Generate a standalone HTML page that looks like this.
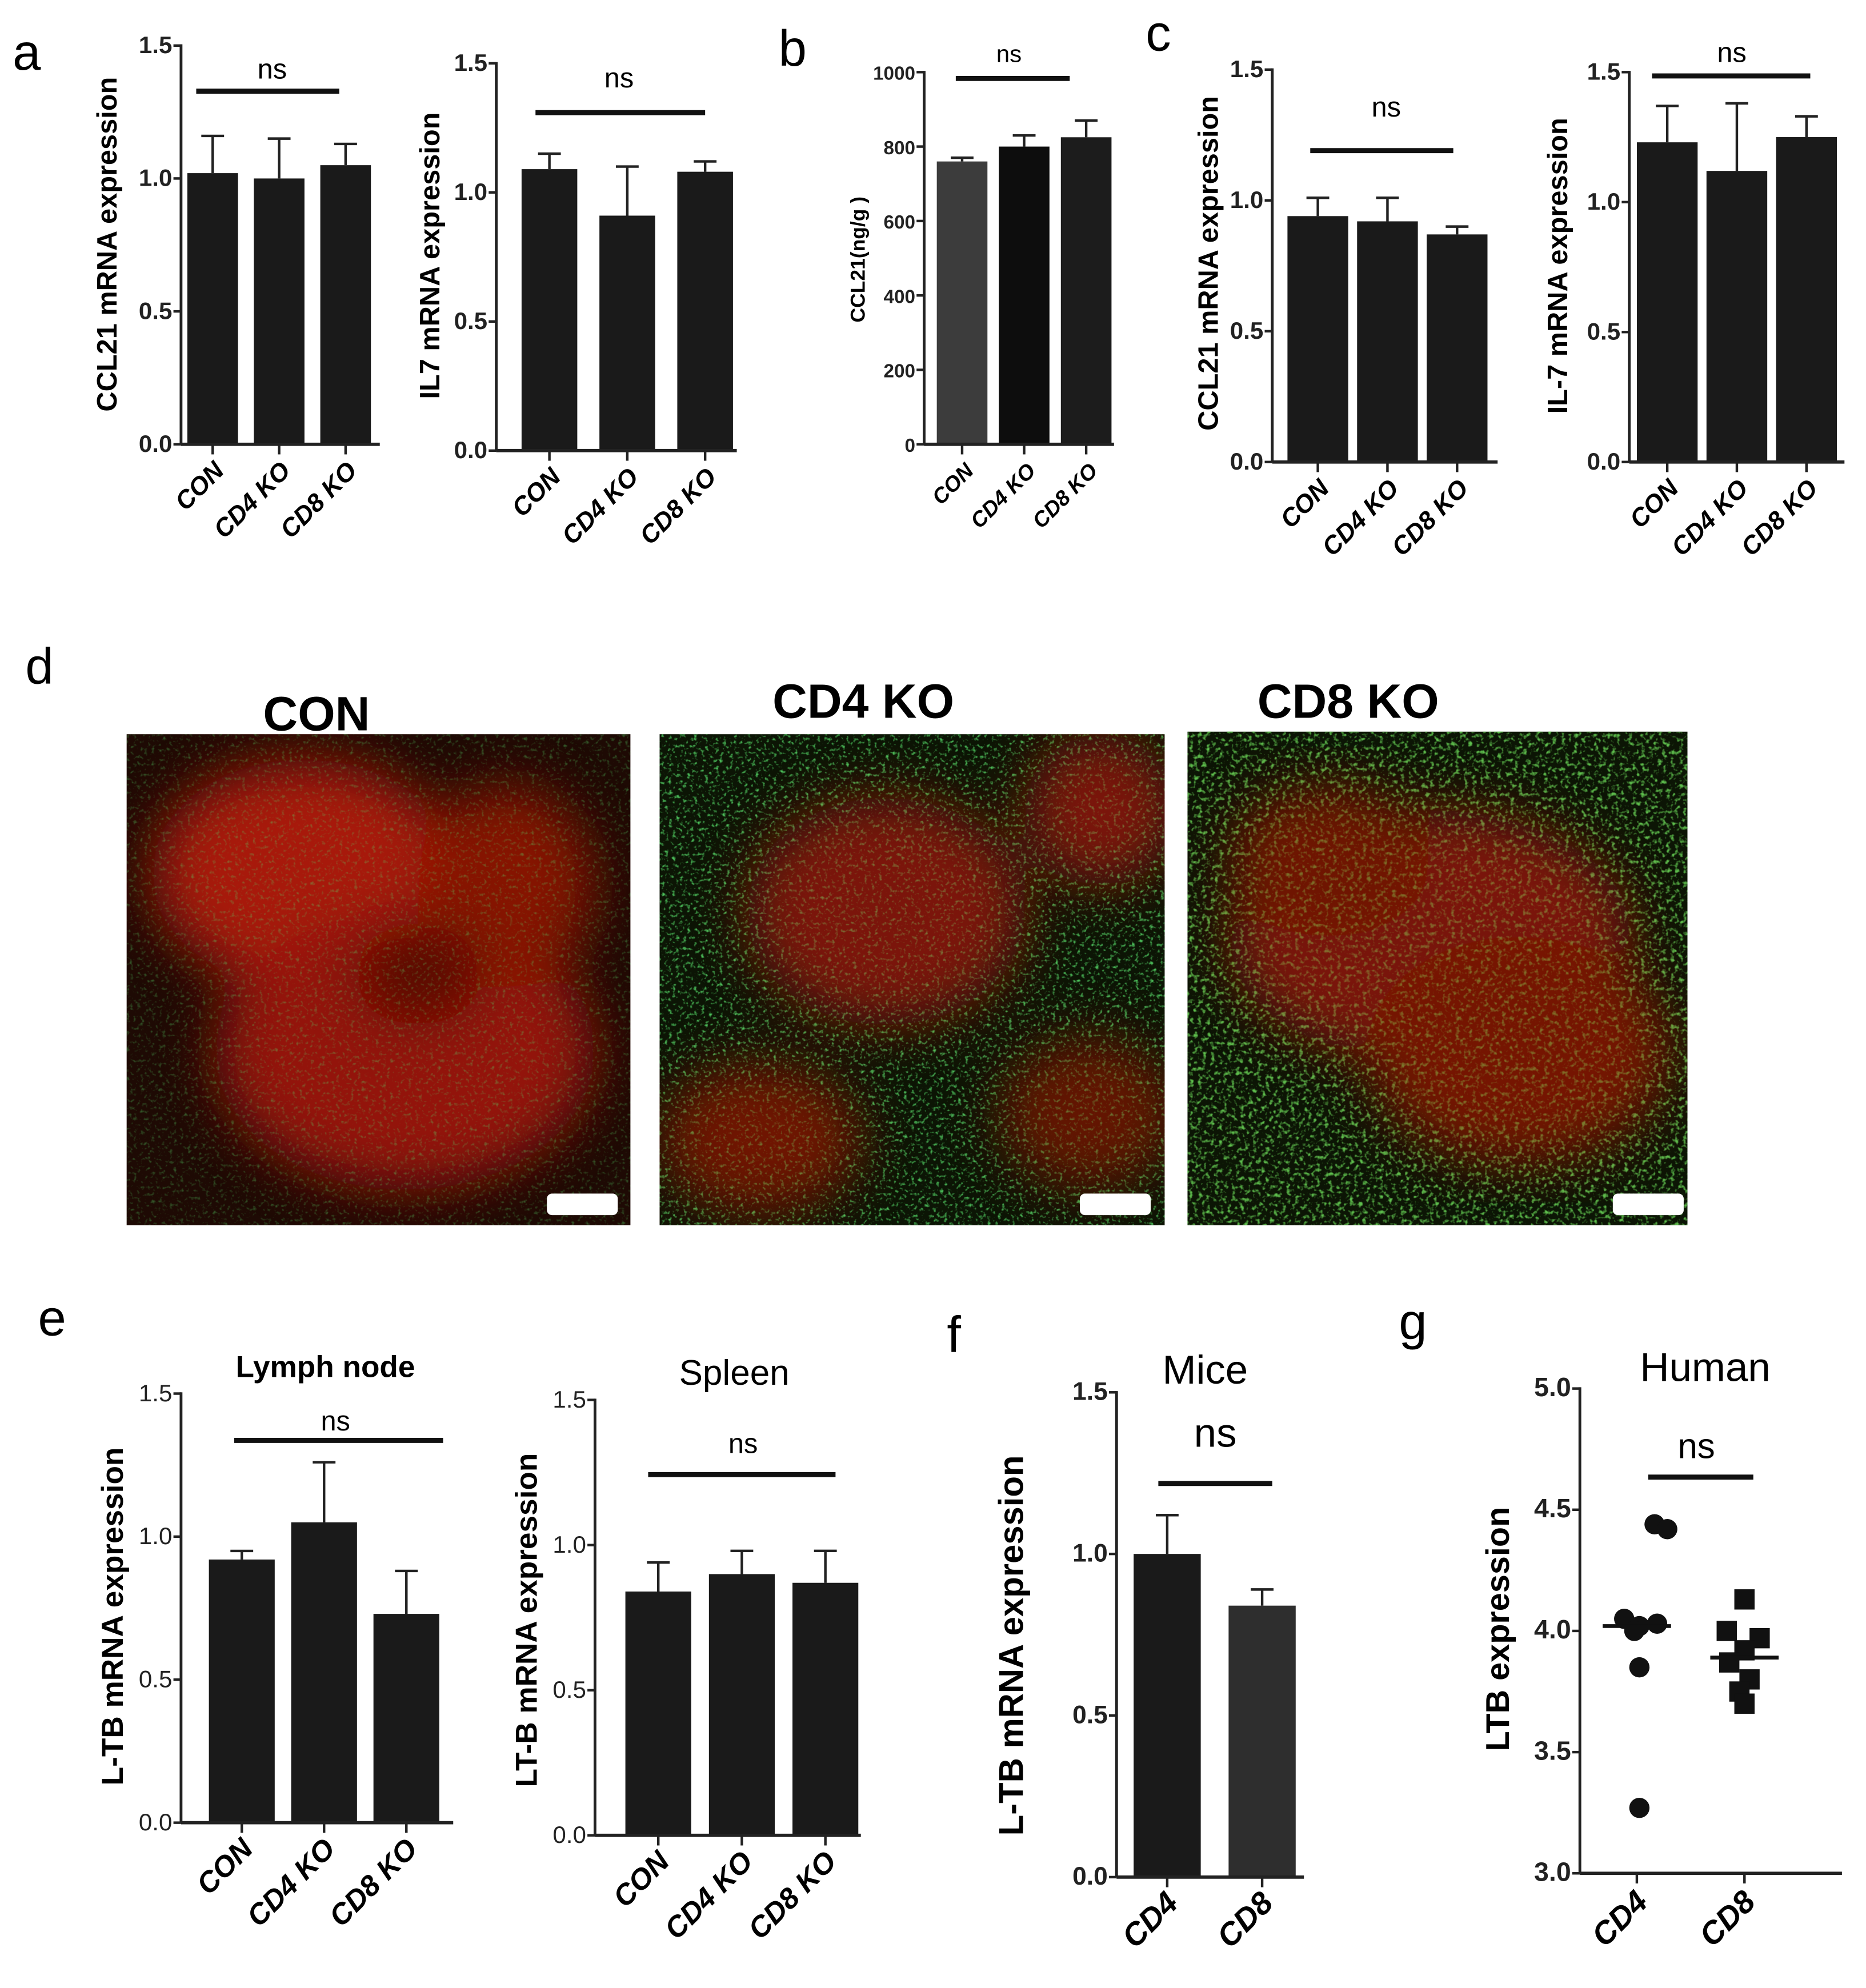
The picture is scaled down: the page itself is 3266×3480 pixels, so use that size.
<!DOCTYPE html>
<html><head><meta charset="utf-8">
<style>
html,body{margin:0;padding:0;background:#fff;}
svg{display:block;font-family:"Liberation Sans",Arial,sans-serif;}
</style></head>
<body>
<svg id="fig" width="3266" height="3480" viewBox="0 0 1474 1570.6" xmlns="http://www.w3.org/2000/svg">
<defs>
<filter id="grn" x="0" y="0" width="100%" height="100%">
<feTurbulence type="fractalNoise" baseFrequency="0.35" numOctaves="2" seed="4"/>
<feColorMatrix type="matrix" values="0 0 0 0 0.1  0 0 0 0 0.75  0 0 0 0 0.15  0 3.2 0 0 -1.75"/>
</filter>
<filter id="grn2" x="0" y="0" width="100%" height="100%">
<feTurbulence type="fractalNoise" baseFrequency="0.3" numOctaves="2" seed="9"/>
<feColorMatrix type="matrix" values="0 0 0 0 0.15  0 0 0 0 0.7  0 0 0 0 0.1  0 3.5 0 0 -1.8"/>
</filter>
<filter id="blur8"><feGaussianBlur stdDeviation="22"/></filter>
</defs>
<g font-size="40" fill="#000">
<text x="10" y="55">a</text>
<text x="615" y="52">b</text>
<text x="905" y="40">c</text>
<text x="20" y="540">d</text>
<text x="30" y="1055">e</text>
<text x="748" y="1068">f</text>
<text x="1105" y="1058">g</text>
</g>

<g>
<text x="250" y="577" font-size="38" font-weight="bold" text-anchor="middle">CON</text>
<text x="682" y="567" font-size="38" font-weight="bold" text-anchor="middle">CD4 KO</text>
<text x="1065" y="567" font-size="38" font-weight="bold" text-anchor="middle">CD8 KO</text>
<clipPath id="c1"><rect x="100" y="580" width="398" height="388"/></clipPath>
<clipPath id="c2"><rect x="521" y="580" width="399" height="388"/></clipPath>
<clipPath id="c3"><rect x="938" y="578" width="395" height="390"/></clipPath>
<g clip-path="url(#c1)">
<rect x="100" y="580" width="398" height="388" fill="#1e0a04"/>
<g filter="url(#blur8)" opacity="0.85">
<ellipse cx="240" cy="690" rx="120" ry="90" fill="#c01a0a"/>
<ellipse cx="320" cy="830" rx="150" ry="110" fill="#a81808"/>
<ellipse cx="400" cy="700" rx="70" ry="80" fill="#981606"/>
<ellipse cx="330" cy="770" rx="50" ry="40" fill="#601004"/>
</g>
<rect x="100" y="580" width="398" height="388" filter="url(#grn)" opacity="0.35"/>
</g>
<g clip-path="url(#c2)">
<rect x="521" y="580" width="399" height="388" fill="#0c1505"/>
<rect x="521" y="580" width="399" height="388" filter="url(#grn)" opacity="0.8"/>
<g filter="url(#blur8)" opacity="0.75">
<ellipse cx="700" cy="720" rx="110" ry="90" fill="#a01808"/>
<ellipse cx="600" cy="900" rx="80" ry="60" fill="#901606"/>
<ellipse cx="870" cy="640" rx="60" ry="60" fill="#a01808"/>
<ellipse cx="860" cy="880" rx="70" ry="60" fill="#801404"/>
</g>
<rect x="521" y="580" width="399" height="388" filter="url(#grn)" opacity="0.3"/>
</g>
<g clip-path="url(#c3)">
<rect x="938" y="578" width="395" height="390" fill="#0c1505"/>
<rect x="938" y="578" width="395" height="390" filter="url(#grn2)" opacity="0.8"/>
<g filter="url(#blur8)" opacity="0.75">
<ellipse cx="1130" cy="740" rx="160" ry="100" fill="#a01808"/>
<ellipse cx="1200" cy="830" rx="120" ry="90" fill="#981606"/>
<ellipse cx="1050" cy="680" rx="80" ry="60" fill="#901606"/>
</g>
<rect x="938" y="578" width="395" height="390" filter="url(#grn2)" opacity="0.3"/>
</g>
<rect x="432" y="943" width="56" height="17" rx="4" fill="#fff"/>
<rect x="853" y="943" width="56" height="17" rx="4" fill="#fff"/>
<rect x="1274" y="943" width="56" height="17" rx="4" fill="#fff"/>
</g>
<g id="charts"></g>
</svg>
<script>
const catsKO = ["CON", "CD4 KO", "CD8 KO"];
const catsCD = ["CD4", "CD8"];
const a1Vals = [1.02, 1.00, 1.05];
const a1Err = [1.16, 1.15, 1.13];
const a2Vals = [1.09, 0.91, 1.08];
const a2Err = [1.15, 1.10, 1.12];
const bVals = [760, 800, 825];
const bErr = [770, 830, 870];
const c1Vals = [0.94, 0.92, 0.87];
const c1Err = [1.01, 1.01, 0.90];
const c2Vals = [1.23, 1.12, 1.25];
const c2Err = [1.37, 1.38, 1.33];
const e1Vals = [0.92, 1.05, 0.73];
const e1Err = [0.95, 1.26, 0.88];
const e2Vals = [0.84, 0.90, 0.87];
const e2Err = [0.94, 0.98, 0.98];
const fVals = [1.00, 0.84];
const fErr = [1.12, 0.89];
const ticks15 = [0, 0.5, 1.0, 1.5];
const ticks15Labels = ["0.0", "0.5", "1.0", "1.5"];
const ticksB = [0, 200, 400, 600, 800, 1000];
const ticksG = [3.0, 3.5, 4.0, 4.5, 5.0];
const ticksGLabels = ["3.0", "3.5", "4.0", "4.5", "5.0"];
const gCD4 = [4.44, 4.42, 4.05, 4.03, 4.02, 4.00, 3.85, 3.27];
const gCD8 = [4.13, 4.00, 3.97, 3.92, 3.87, 3.80, 3.75, 3.70];
const gMeans = [4.02, 3.89];

const NS = "http://www.w3.org/2000/svg";
const root = document.getElementById("charts");
function mk(tag, attrs, parent, txt) {
  const e = document.createElementNS(NS, tag);
  for (const k in attrs) e.setAttribute(k, attrs[k]);
  if (txt !== undefined) e.textContent = txt;
  parent.appendChild(e);
  return e;
}

function barChart(cfg) {
  const g = mk("g", {}, root);
  
  
  const y = v => cfg.y0 - (v - cfg.min) / (cfg.max - cfg.min) * (cfg.y0 - cfg.y1);
  const cx = i => cfg.ax + cfg.firstOff + i * cfg.gap;
  cfg.vals.forEach((v, i) => {
    const c = cx(i);
    const er = mk("line", {x1: c, x2: c, y1: y(cfg.err[i]), y2: y(v), stroke: "#222", "stroke-width": 2}, g);
    
    
    const cap = mk("line", {x1: c - 9, x2: c + 9, y1: y(cfg.err[i]), y2: y(cfg.err[i]), stroke: "#222", "stroke-width": 2}, g);
    
    
    const b = mk("rect", {x: c - cfg.bw / 2, y: y(v), width: cfg.bw, height: y(cfg.min) - y(v), fill: (cfg.fills && cfg.fills[i]) || "#1a1a1a"}, g);
    
    
    const tk = mk("line", {x1: c, x2: c, y1: cfg.y0, y2: cfg.y0 + 8, stroke: "#222", "stroke-width": 2}, g);
    
    
    const lb = mk("text", {x: c + 10, y: cfg.y0 + 22, "text-anchor": "end", "font-size": cfg.catFs || 20, "font-weight": "bold", "font-style": "italic", transform: `rotate(-45 ${c + 10} ${cfg.y0 + 22})`}, g, cfg.cats[i]);
    
    
  });
  axes(g, cfg, y);
  return g;
}

function axes(g, cfg, y) {
  const ya = mk("line", {x1: cfg.ax, x2: cfg.ax, y1: cfg.y1 - 1, y2: cfg.y0, stroke: "#222", "stroke-width": 2.2}, g);
  
  
  const xa = mk("line", {x1: cfg.ax, x2: cfg.xEnd, y1: cfg.y0, y2: cfg.y0, stroke: "#222", "stroke-width": 2.6}, g);
  
  
  cfg.ticks.forEach((t, i) => {
    const tl = mk("line", {x1: cfg.ax - 6, x2: cfg.ax, y1: y(t), y2: y(t), stroke: "#222", "stroke-width": 2}, g);
    
    
    const tx = mk("text", {x: cfg.ax - 7, y: y(t) + 6, "text-anchor": "end", "font-size": cfg.tickFs || 19, "font-weight": cfg.tickW || "bold", fill: "#222"}, g, cfg.tickLabels[i]);
    
    
  });
  const yl = mk("text", {x: cfg.ylx, y: cfg.yly, "text-anchor": "middle", "font-size": cfg.ylFs || 22, "font-weight": "bold", transform: `rotate(-90 ${cfg.ylx} ${cfg.yly})`}, g, cfg.ylabel);
  
  
  const ns = mk("line", {x1: cfg.ns[0], x2: cfg.ns[1], y1: cfg.ns[2], y2: cfg.ns[2], stroke: "#111", "stroke-width": 4}, g);
  
  
  const nt = mk("text", {x: cfg.ns[3], y: cfg.ns[4], "text-anchor": "middle", "font-size": cfg.nsFs || 22}, g, "ns");
  
  
  if (cfg.title) {
    const t = mk("text", {x: cfg.title[1], y: cfg.title[2], "text-anchor": "middle", "font-size": cfg.title[3], "font-weight": cfg.title[4] || "normal"}, g, cfg.title[0]);
    
    
  }
}

barChart({name: "chart-a-ccl21", cats: catsKO, vals: a1Vals, err: a1Err, min: 0, max: 1.5, y0: 351, y1: 36, ax: 143, xEnd: 300, firstOff: 25, gap: 52.5, bw: 40,
  ticks: ticks15, tickLabels: ticks15Labels, ylabel: "CCL21 mRNA expression", ylx: 92, yly: 193, ns: [155, 268, 72, 215, 62]});
barChart({name: "chart-a-il7", cats: catsKO, vals: a2Vals, err: a2Err, min: 0, max: 1.5, y0: 356, y1: 50, ax: 392, xEnd: 582, firstOff: 42, gap: 61.5, bw: 44,
  ticks: ticks15, tickLabels: ticks15Labels, ylabel: "IL7 mRNA expression", ylx: 347, yly: 202, ns: [423, 557, 89, 489, 69]});
barChart({name: "chart-b-ccl21-protein", cats: catsKO, vals: bVals, err: bErr, min: 0, max: 1000, y0: 351, y1: 57, ax: 730, xEnd: 880, firstOff: 30, gap: 49, bw: 40,
  fills: ["#3c3c3c", "#0d0d0d", "#1c1c1c"], catFs: 17, tickFs: 15, ylFs: 16,
  ticks: ticksB, tickLabels: ["0", "200", "400", "600", "800", "1000"], ylabel: "CCL21(ng/g )", ylx: 683, yly: 205, ns: [755, 845, 62, 797, 49], nsFs: 19});
barChart({name: "chart-c-ccl21", cats: catsKO, vals: c1Vals, err: c1Err, min: 0, max: 1.5, y0: 365, y1: 55, ax: 1005, xEnd: 1183, firstOff: 36, gap: 55, bw: 48,
  ticks: ticks15, tickLabels: ticks15Labels, ylabel: "CCL21 mRNA expression", ylx: 962, yly: 208, ns: [1035, 1148, 119, 1095, 92]});
barChart({name: "chart-c-il7", cats: catsKO, vals: c2Vals, err: c2Err, min: 0, max: 1.5, y0: 365, y1: 57, ax: 1287, xEnd: 1457, firstOff: 30, gap: 55, bw: 48,
  ticks: ticks15, tickLabels: ticks15Labels, ylabel: "IL-7 mRNA expression", ylx: 1238, yly: 210, ns: [1305, 1430, 60, 1368, 49]});
barChart({name: "chart-e-lymph-node", cats: catsKO, vals: e1Vals, err: e1Err, min: 0, max: 1.5, y0: 1440, y1: 1101, ax: 143, xEnd: 358, firstOff: 48, gap: 65, bw: 52, catFs: 23, tickW: "normal",
  ticks: ticks15, tickLabels: ticks15Labels, ylabel: "L-TB mRNA expression", ylx: 97, yly: 1277, ylFs: 24,
  ns: [185, 350, 1138, 265, 1130], title: ["Lymph node", 257, 1088, 24, "bold"]});
barChart({name: "chart-e-spleen", cats: catsKO, vals: e2Vals, err: e2Err, min: 0, max: 1.5, y0: 1450, y1: 1106, ax: 470, xEnd: 680, firstOff: 50, gap: 66, bw: 52, catFs: 23, tickW: "normal",
  ticks: ticks15, tickLabels: ticks15Labels, ylabel: "LT-B mRNA expression", ylx: 424, yly: 1280, ylFs: 24,
  ns: [512, 660, 1165, 587, 1148], title: ["Spleen", 580, 1094, 28]});
barChart({name: "chart-f-mice", cats: catsCD, vals: fVals, err: fErr, min: 0, max: 1.5, y0: 1483, y1: 1100, ax: 882, xEnd: 1030, firstOff: 40, gap: 75, bw: 53, catFs: 25,
  fills: ["#1a1a1a", "#2e2e2e"], ylFs: 27, tickFs: 20,
  ticks: ticks15, tickLabels: ticks15Labels, ylabel: "L-TB mRNA expression", ylx: 808, yly: 1300, ns: [915, 1005, 1172, 960, 1143], nsFs: 32,
  title: ["Mice", 952, 1093, 32]});

(function () {
  const cfg = {y0: 1480, y1: 1097, min: 3.0, max: 5.0, ax: 1248, xEnd: 1455, ticks: ticksG, tickLabels: ticksGLabels, tickFs: 21,
    ylabel: "LTB expression", ylx: 1192, yly: 1287, ylFs: 26, ns: [1302, 1385, 1167, 1340, 1152], nsFs: 28, title: ["Human", 1347, 1091, 32]};
  const g = mk("g", {}, root);
  
  
  const y = v => cfg.y0 - (v - cfg.min) / (cfg.max - cfg.min) * (cfg.y0 - cfg.y1);
  const xs = [1293, 1378];
  const jit = [14, 24, -10, 16, 2, -2, 2, 2];
  gCD4.forEach((v, i) => {
    const c = mk("circle", {cx: xs[0] + jit[i], cy: y(v), r: 8, fill: "#111"}, g);
    
    
  });
  const jit8 = [0, -14, 12, 0, -12, 4, -4, 0];
  gCD8.forEach((v, i) => {
    const s = mk("rect", {x: xs[1] + jit8[i] - 8, y: y(v) - 8, width: 16, height: 16, fill: "#111"}, g);
    
    
  });
  gMeans.forEach((m, i) => {
    const l = mk("line", {x1: xs[i] - 27, x2: xs[i] + 27, y1: y(m), y2: y(m), stroke: "#111", "stroke-width": 3}, g);
    
    
  });
  catsCD.forEach((c, i) => {
    const tk = mk("line", {x1: xs[i], x2: xs[i], y1: cfg.y0, y2: cfg.y0 + 8, stroke: "#222", "stroke-width": 2}, g);
    
    
    const lb = mk("text", {x: xs[i] + 10, y: cfg.y0 + 24, "text-anchor": "end", "font-size": 25, "font-weight": "bold", "font-style": "italic", transform: `rotate(-45 ${xs[i] + 10} ${cfg.y0 + 24})`}, g, c);
    
    
  });
  axes(g, cfg, y);
})();
</script>
</body></html>
